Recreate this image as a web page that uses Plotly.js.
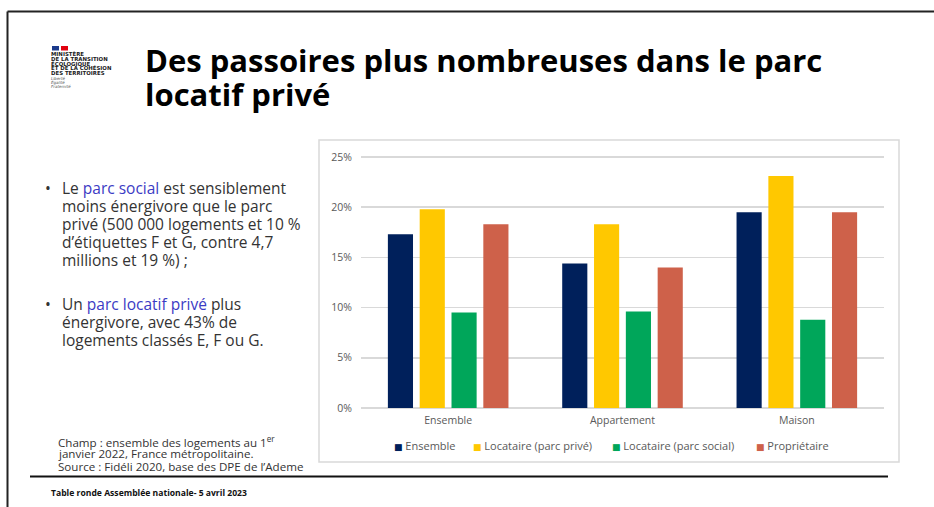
<!DOCTYPE html>
<html>
<head>
<meta charset="utf-8">
<script src="https://cdn.plot.ly/plotly-3.0.1.min.js"></script>
<style>html,body{margin:0;padding:0;background:#fff;}#chart{width:934px;height:507px;}</style>
</head>
<body>
<div id="chart"></div>
<script>
// ---- data ----
const categories = ["Ensemble", "Appartement", "Maison"];
const seriesNames = ["Ensemble", "Locataire (parc privé)", "Locataire (parc social)", "Propriétaire"];
const ensemble = [17.3, 14.4, 19.5];
const locatairePrive = [19.8, 18.3, 23.1];
const locataireSocial = [9.5, 9.6, 8.8];
const proprietaire = [18.3, 14.0, 19.5];
const yTicks = [0, 5, 10, 15, 20, 25];
const yTickLabels = ["0%", "5%", "10%", "15%", "20%", "25%"];

const colors = ["#00205b", "#ffc800", "#00a65a", "#ce614a"];
const seriesValues = [ensemble, locatairePrive, locataireSocial, proprietaire];

// plot area in pixels
const PL = 361, PR = 884, PT = 154, PB = 408, W = 934, H = 507;
const px = x => (x - PL) / (PR - PL);
const py = y => (PB - y) / (PB - PT);

const traces = seriesNames.map((n, i) => ({
  type: "bar", name: n, x: categories, y: seriesValues[i],
  marker: {color: colors[i]}, hoverinfo: "skip", showlegend: false
}));

const gray = "#595959";
const txt = "#333333";
const blue = "#3b3bc4";
const annotations = [];
function ann(x, y, text, opts) {
  annotations.push(Object.assign({
    xref: "paper", yref: "paper", x: px(x), y: py(y), text: text, showarrow: false,
    xanchor: "left", yanchor: "middle", align: "left", borderpad: 0,
    font: {family: "Open Sans, sans-serif", size: 14, color: txt}
  }, opts || {}));
}
// title
const titleFont = {family: "Open Sans, sans-serif", size: 31, color: "#000", weight: 700};
ann(144, 60, "<b>Des passoires plus nombreuses dans le parc</b>", {font: titleFont});
ann(144, 94, "<b>locatif privé</b>", {font: titleFont});
// logo text
const logoFont = {family: "DejaVu Sans, sans-serif", size: 5.4, color: "#222"};
["MINISTÈRE", "DE LA TRANSITION", "ÉCOLOGIQUE", "ET DE LA COHÉSION", "DES TERRITOIRES"].forEach((t, i) => {
  ann(50, 54 + i * 4.8, "<b>" + t + "</b>", {font: logoFont});
});
["Liberté", "Égalité", "Fraternité"].forEach((t, i) => {
  ann(50, 78.5 + i * 3.8, "<i>" + t + "</i>", {font: {family: "DejaVu Sans, sans-serif", size: 4, color: "#555"}});
});
// bullets
const bFont = {family: "Open Sans, sans-serif", size: 15.5, color: txt};
const b1 = [
  'Le <span style="color:' + blue + '">parc social</span> est sensiblement',
  'moins énergivore que le parc',
  'privé (500 000 logements et 10 %',
  'd’étiquettes F et G, contre 4,7',
  'millions et 19 %) ;'
];
b1.forEach((t, i) => ann(61, 188 + i * 18, t, {font: bFont}));
const b2 = [
  'Un <span style="color:' + blue + '">parc locatif privé</span> plus',
  'énergivore, avec 43% de',
  'logements classés E, F ou G.'
];
b2.forEach((t, i) => ann(61, 304 + i * 17.8, t, {font: bFont}));
ann(44, 188, "•", {font: bFont});
ann(44, 304, "•", {font: bFont});
// footnote
const fFont = {family: "Open Sans, sans-serif", size: 11.6, color: txt};
ann(57, 441, "Champ : ensemble des logements au 1<sup>er</sup>", {font: fFont});
ann(57, 453.5, "janvier 2022, France métropolitaine.", {font: fFont});
ann(57, 466, "Source : Fidéli 2020, base des DPE de l’Ademe", {font: fFont});
ann(50, 493, "<b>Table ronde Assemblée nationale- 5 avril 2023</b>", {font: {family: "Open Sans, sans-serif", size: 8.6, color: "#111"}});

// legend (drawn as text items under the chart)
const legendX = [393, 472, 611, 755];
seriesNames.forEach((n, i) => {
  ann(legendX[i], 445, '<span style="color:' + colors[i] + ';font-size:9px">■</span> ' + n,
      {font: {family: "Open Sans, DejaVu Sans, sans-serif", size: 11, color: gray}});
});

const shapes = [
  // slide frame
  {type: "line", xref: "paper", yref: "paper", x0: px(7.5), x1: px(940), y0: py(11.5), y1: py(11.5), line: {color: "#222", width: 2}},
  {type: "line", xref: "paper", yref: "paper", x0: px(7.5), x1: px(7.5), y0: py(11.5), y1: py(510), line: {color: "#222", width: 2}},
  {type: "line", xref: "paper", yref: "paper", x0: px(30), x1: px(888), y0: py(476.5), y1: py(476.5), line: {color: "#111", width: 2}},
  // chart box
  {type: "rect", xref: "paper", yref: "paper", x0: px(319), x1: px(899), y0: py(140), y1: py(462), line: {color: "#d9d9d9", width: 1.5}, layer: "below"},
  // logo flag
  {type: "rect", xref: "paper", yref: "paper", x0: px(52), x1: px(59), y0: py(46), y1: py(50.5), line: {width: 0}, fillcolor: "#1b3a8c"},
  {type: "rect", xref: "paper", yref: "paper", x0: px(61), x1: px(68), y0: py(46), y1: py(50.5), line: {width: 0}, fillcolor: "#e1000f"}
];

const layout = {
  width: W, height: H,
  margin: {l: PL, r: W - PR, t: PT, b: H - PB, pad: 0},
  paper_bgcolor: "#fff", plot_bgcolor: "#fff",
  font: {family: "Open Sans, sans-serif", size: 11, color: gray},
  barmode: "group", bargap: 0.27, bargroupgap: 0.21,
  showlegend: false,
  xaxis: {showgrid: false, showline: false, zeroline: false, ticks: "", tickfont: {size: 10.5, color: gray}, ticklabelstandoff: 4, fixedrange: true},
  yaxis: {range: [0, 25.3], tickvals: yTicks, ticktext: yTickLabels, gridcolor: "#d9d9d9", gridwidth: 1.5,
          zeroline: true, zerolinecolor: "#d9d9d9", zerolinewidth: 1.5, showline: false,
          ticks: "", ticklabelstandoff: 8, tickfont: {size: 10.5, color: gray}, fixedrange: true},
  annotations: annotations,
  shapes: shapes
};
Plotly.newPlot("chart", traces, layout, {displayModeBar: false, staticPlot: true});
</script>
</body>
</html>
